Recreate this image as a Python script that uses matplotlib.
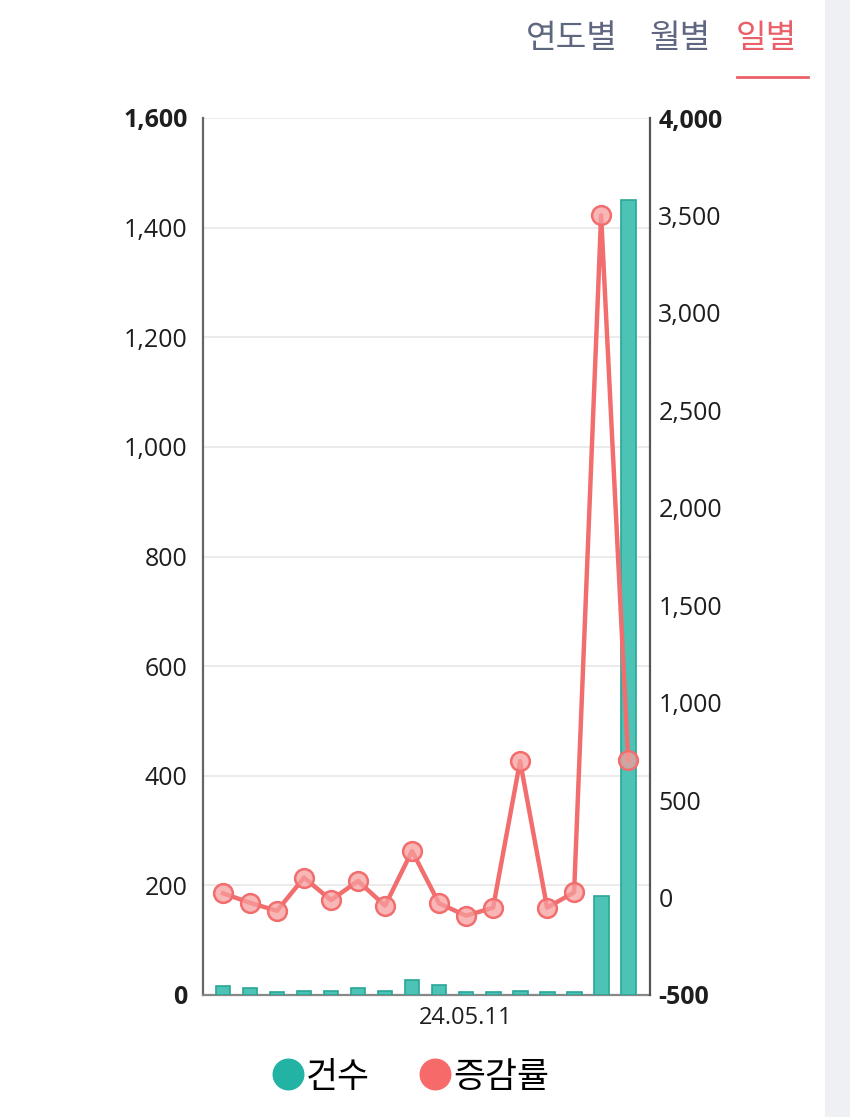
import matplotlib
matplotlib.use("Agg")
import matplotlib.pyplot as plt
from matplotlib.lines import Line2D
from matplotlib.patches import Rectangle

plt.rcParams['font.family'] = ['Open Sans', 'Noto Sans CJK KR', 'DejaVu Sans']

# Data
categories = [str(i) for i in range(16)]
xtick_label_index = 9
xtick_label = "24.05.11"
counts = [17, 12, 5, 8, 7, 13, 8, 27, 19, 5, 5, 8, 5, 5, 181, 1451]
rates = [22, -27, -68, 102, -13, 85, -42, 239, -30, -93, -52, 700, -52, 27, 3500, 705]
left_ticks = [0, 200, 400, 600, 800, 1000, 1200, 1400, 1600]
right_ticks = [-500, 0, 500, 1000, 1500, 2000, 2500, 3000, 3500, 4000]
series_names = ["건수", "증감률"]
tabs = ["연도별", "월별", "일별"]

bar_color = "#4cc3b5"
bar_edge = "#2aa597"
line_color = "#f26d6d"
marker_face = (0.97, 0.62, 0.62, 0.75)
kfont = ['Noto Sans CJK KR', 'DejaVu Sans']

fig = plt.figure(figsize=(8.5, 11.17), dpi=100)
fig.patch.set_facecolor("white")
fig.patches.append(Rectangle((825/850, 0), 25/850, 1, transform=fig.transFigure,
                             facecolor="#eef0f4", edgecolor="none", zorder=0))

ax = fig.add_axes([203/850, 1-995/1117, 447/850, 877/1117])
x = list(range(len(categories)))
ax.bar(x, counts, width=0.55, color=bar_color, edgecolor=bar_edge, linewidth=1.2, zorder=3)
ax.set_xlim(-0.74, 15.81)
ax.set_ylim(0, 1600)
ax.set_yticks(left_ticks)
ax.set_yticklabels([f"{v:,}" for v in left_ticks])
ax.grid(axis='y', color="#e9e9e9", linewidth=1.3, zorder=0)
ax.set_axisbelow(True)
ax.tick_params(axis='y', length=0, pad=11, labelsize=18, labelcolor="#1e1e1e")
ax.set_xticks([xtick_label_index])
ax.set_xticklabels([xtick_label])
ax.tick_params(axis='x', length=0, pad=8, labelsize=17, labelcolor="#1e1e1e")
for lbl, v in zip(ax.get_yticklabels(), left_ticks):
    if v in (0, 1600):
        lbl.set_fontweight('bold')
ax.spines['top'].set_visible(False)
ax.spines['right'].set_visible(False)
ax.spines['left'].set_color("#666666")
ax.spines['left'].set_linewidth(1.6)
ax.spines['bottom'].set_color("#888888")
ax.spines['bottom'].set_linewidth(1.6)

ax2 = ax.twinx()
ax2.plot(x, rates, color=line_color, linewidth=3.2, zorder=4)
ax2.plot(x, rates, linestyle='none', marker='o', markersize=13.5,
         markerfacecolor=marker_face, markeredgecolor=line_color, markeredgewidth=1.8, zorder=5)
ax2.set_ylim(-500, 4000)
ax2.set_yticks(right_ticks)
ax2.set_yticklabels([f"{v:,}" for v in right_ticks])
ax2.tick_params(axis='y', length=0, pad=6, labelsize=18, labelcolor="#1e1e1e")
for lbl, v in zip(ax2.get_yticklabels(), right_ticks):
    if v in (-500, 4000):
        lbl.set_fontweight('bold')
for s in ['top', 'left', 'bottom']:
    ax2.spines[s].set_visible(False)
ax2.spines['right'].set_color("#555555")
ax2.spines['right'].set_linewidth(1.6)

# Tabs
fig.text(526/850, 1-38/1117, tabs[0], fontsize=24, color="#5f6680", va='center', ha='left', family=kfont)
fig.text(649/850, 1-38/1117, tabs[1], fontsize=24, color="#5f6680", va='center', ha='left', family=kfont)
fig.text(736/850, 1-38/1117, tabs[2], fontsize=24, color="#ea6069", va='center', ha='left', family=kfont)
fig.lines.append(Line2D([737/850, 808/850], [1-77/1117, 1-77/1117], transform=fig.transFigure,
                        color="#ea6069", linewidth=2))

# Legend
handles = [Line2D([], [], linestyle='none', marker='o', markersize=22, markerfacecolor="#22b3a4",
                  markeredgecolor="#22b3a4"),
           Line2D([], [], linestyle='none', marker='o', markersize=22, markerfacecolor="#f76a6a",
                  markeredgecolor="#f76a6a")]
fig.legend(handles, series_names, loc='center', bbox_to_anchor=(408/850, 1-1077/1117),
           ncol=2, frameon=False, handletextpad=-0.1, columnspacing=1.3,
           handlelength=1.2, prop={'family': kfont, 'size': 25})

fig.savefig("out.png", dpi=100, facecolor="white")
